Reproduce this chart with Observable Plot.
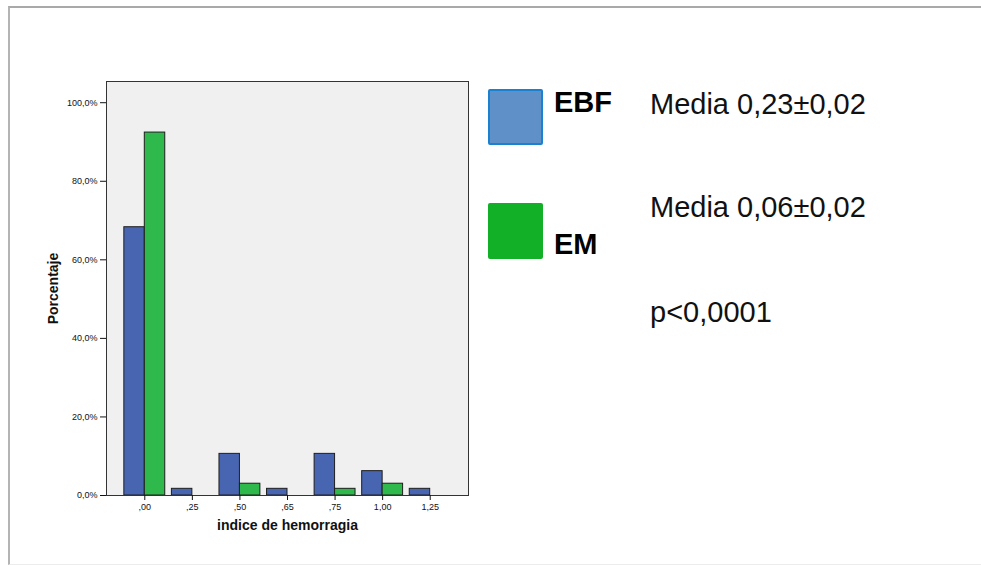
<!DOCTYPE html>
<html>
<head>
<meta charset="utf-8">
<script src="https://cdn.jsdelivr.net/npm/d3@7"></script>
<script src="https://cdn.jsdelivr.net/npm/@observablehq/plot@0.6"></script>
<style>
  html, body { margin: 0; padding: 0; background: #fff; }
  #wrap { position: relative; width: 981px; height: 565px; overflow: hidden; font-family: "Liberation Sans", Arial, sans-serif; }
  #border { position: absolute; left: 8px; top: 6px; width: 1000px; height: 556px; border-top: 2px solid #a9a9a9; border-left: 2px solid #b4b4b4; border-bottom: 1px solid #ececec; }
  #chart { position: absolute; left: 0; top: 0; }
  g[aria-label="y-axis label"], g[aria-label="x-axis label"] { font-weight: bold; font-size: 14px; }
  .sw { position: absolute; box-sizing: border-box; border-radius: 2px; }
  .t { position: absolute; font-size: 29px; line-height: 29px; white-space: nowrap; color: #111; }
  .b { font-weight: bold; color: #000; }
</style>
</head>
<body>
<div id="wrap">
  <div id="border"></div>
  <div id="chart"></div>
  <div class="sw" style="left:488px;top:89px;width:55px;height:56px;background:#6090c8;border:2px solid #1a80d0;"></div>
  <div class="t b" id="lgEBF" style="left:554px;top:88px;"></div>
  <div class="sw" style="left:488px;top:203px;width:55px;height:56px;background:#12b026;"></div>
  <div class="t b" id="lgEM" style="left:554px;top:230px;"></div>
  <div class="t" id="m1" style="left:650px;top:90px;"></div>
  <div class="t" id="m2" style="left:650px;top:193px;"></div>
  <div class="t" id="pv" style="left:650px;top:298px;"></div>
</div>
<script>
// ---- data ----
const categories = [",00", ",25", ",50", ",65", ",75", "1,00", "1,25"];
const seriesNames = ["EBF", "EM"];
const ebfValues = [68.3, 1.7, 10.6, 1.7, 10.6, 6.2, 1.7];
const emValues  = [92.4, 0, 3.0, 0, 1.7, 3.0, 0];
const yTicks = [0, 20, 40, 60, 80, 100];
const meanTexts = ["Media 0,23\u00b10,02", "Media 0,06\u00b10,02"];
const pText = "p<0,0001";
const xLabel = "indice de hemorragia";
const yLabel = "Porcentaje";

// ---- layout ----
const W = 480, H = 565, ML = 106, MR = 12, MT = 81, MB = 70;
const padIn = 0.14, padOut = 0.375;
const step = (W - ML - MR) / (categories.length - padIn + 2 * padOut);
const half = step * (1 - padIn) / 2;
const colors = {EBF: "#4865b1", EM: "#2fb84b"};

const rows = [];
categories.forEach((c, i) => {
  rows.push({cat: c, s: "EBF", v: ebfValues[i]});
  rows.push({cat: c, s: "EM", v: emValues[i]});
});
const ebfRows = rows.filter(d => d.s === "EBF" && d.v > 0);
const emRows = rows.filter(d => d.s === "EM" && d.v > 0);

const chart = Plot.plot({
  width: W, height: H,
  marginLeft: ML, marginRight: MR, marginTop: MT, marginBottom: MB,
  style: {fontFamily: "'Liberation Sans', Arial, sans-serif", background: "transparent", color: "#111"},
  x: {type: "band", domain: categories, paddingInner: padIn, paddingOuter: padOut, round: false},
  y: {domain: [0, 105.4]},
  marks: [
    Plot.frame({fill: "#f0f0f0", stroke: null}),
    Plot.barY(ebfRows, {x: "cat", y: "v", fill: colors.EBF, stroke: "#1e1e1e", strokeWidth: 1, insetLeft: 0, insetRight: half}),
    Plot.barY(emRows, {x: "cat", y: "v", fill: colors.EM, stroke: "#1e1e1e", strokeWidth: 1, insetLeft: half, insetRight: 0}),
    Plot.frame({stroke: "#333", strokeWidth: 1}),
    Plot.axisY({ticks: yTicks, tickFormat: d => `${d},0%`, tickSize: 6, tickPadding: 3, fontSize: 9,
      label: yLabel, labelAnchor: "center", labelArrow: "none", labelOffset: 58}),
    Plot.axisX({tickSize: 5, tickPadding: 3, fontSize: 9,
      label: xLabel, labelAnchor: "center", labelArrow: "none", labelOffset: 34})
  ]
});
document.getElementById("chart").appendChild(chart);

document.getElementById("lgEBF").textContent = seriesNames[0];
document.getElementById("lgEM").textContent = seriesNames[1];
document.getElementById("m1").textContent = meanTexts[0];
document.getElementById("m2").textContent = meanTexts[1];
document.getElementById("pv").textContent = pText;
</script>
</body>
</html>
